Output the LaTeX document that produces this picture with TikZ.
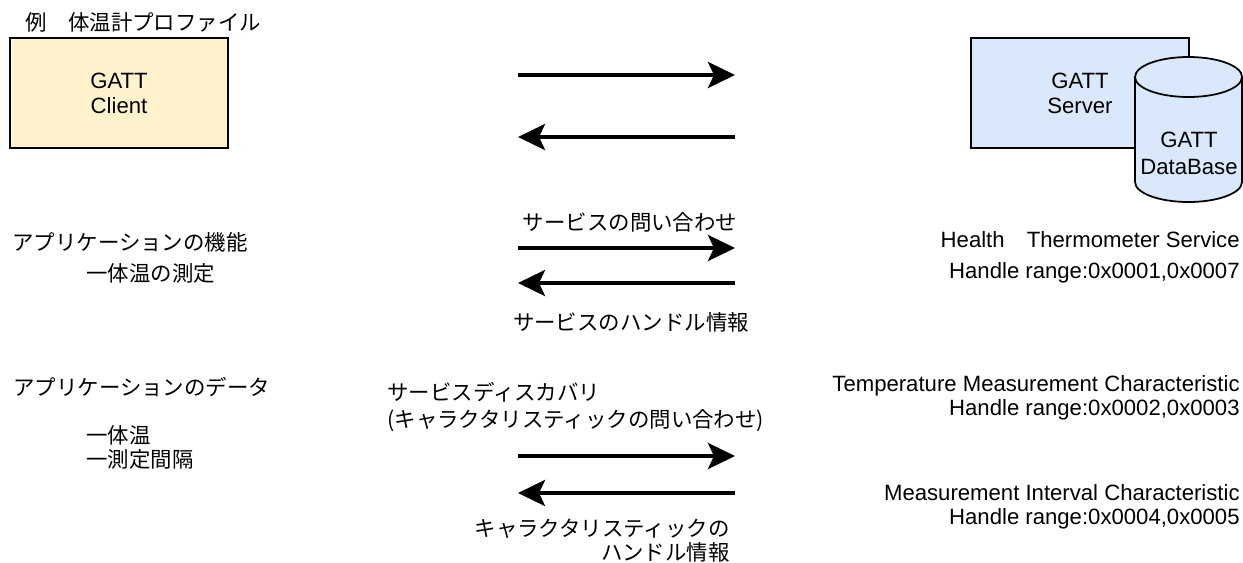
\documentclass[tikz,border=0pt]{standalone}
\usepackage{fontspec}
\setmainfont{Liberation Sans}
\newfontfamily\jp{Noto Sans CJK JP}
\usetikzlibrary{arrows.meta}

\definecolor{clientfill}{HTML}{FFF2CC}
\definecolor{serverfill}{HTML}{DAE8FC}
\newcommand{\lblfont}{\fontsize{12.6}{13.6}\selectfont}
\newcommand{\jpfont}{\fontsize{12.2}{13.6}\selectfont\jp}

\begin{document}
\begin{tikzpicture}[
  x=0.02cm, y=-0.02cm,
  box/.style={rectangle, draw=black, line width=1pt, minimum width=4.36cm,
              minimum height=2.2cm, align=center, inner sep=0pt,
              font=\fontsize{12.6}{14.2}\selectfont},
  lbl/.style={inner sep=0pt, font=\lblfont},
  jlbl/.style={inner sep=0pt, font=\jpfont},
  msg/.style={-{Stealth[length=0.54cm, width=0.52cm, inset=0.12cm]},
              line width=2.3pt},
]
\useasboundingbox (0,0) rectangle (1243,562);

% title
\node[jlbl, anchor=west] (title) at (25,22) {例　体温計プロファイル};

% client and server
\node[box, fill=clientfill] (client) at (119,93) {GATT\\Client};
\node[box, fill=serverfill] (server) at (1080,93) {GATT\\Server};

% database cylinder
\path[fill=serverfill, draw=black, line width=1pt]
  (1135,77) -- (1135,182)
  arc[start angle=180, end angle=360, x radius=1.07cm, y radius=0.4cm]
  -- (1242,77)
  arc[start angle=0, end angle=180, x radius=1.07cm, y radius=0.4cm] -- cycle;
\draw[line width=1pt] (1135,77)
  arc[start angle=180, end angle=360, x radius=1.07cm, y radius=0.4cm];
\node[lbl, align=center, font=\fontsize{12.6}{15.5}\selectfont] (db) at (1189,153) {GATT\\DataBase};

% application side
\node[jlbl, anchor=west] (func)  at (12,242) {アプリケーションの機能};
\node[jlbl, anchor=west] (meas)  at (86,273) {一体温の測定};
\node[jlbl, anchor=west] (data)  at (13,387) {アプリケーションのデータ};
\node[jlbl, anchor=west, align=left] (items) at (86,447) {一体温\\一測定間隔};

% database side
\node[lbl, anchor=east] (hts)   at (1240,240) {Health{\jp　}Thermometer Service};
\node[lbl, anchor=east] (htsh)  at (1240,273) {Handle range:0x0001,0x0007};
\node[lbl, anchor=east, align=right] (tmc) at (1240,398)
  {Temperature Measurement Characteristic\\Handle range:0x0002,0x0003};
\node[lbl, anchor=east, align=right] (mic) at (1240,507)
  {Measurement Interval Characteristic\\Handle range:0x0004,0x0005};

% message labels
\node[jlbl] (svcq) at (630,222) {サービスの問い合わせ};
\node[jlbl] (svcr) at (631,322) {サービスのハンドル情報};
\node[jlbl, anchor=west, align=left, font=\fontsize{12.2}{15.5}\selectfont\jp] (chrq) at (387,407)
  {サービスディスカバリ\\(キャラクタリスティックの問い合わせ)};
\node[jlbl, anchor=east, align=right] (chrr) at (730,541)
  {キャラクタリスティックの\\ハンドル情報};

% arrow ends
\coordinate (c1) at (518,75);   \coordinate (s1) at (735,75);
\coordinate (c2) at (518,137);  \coordinate (s2) at (735,137);
\coordinate (c3) at (518,248);  \coordinate (s3) at (735,248);
\coordinate (c4) at (518,283);  \coordinate (s4) at (735,283);
\coordinate (c5) at (518,456);  \coordinate (s5) at (735,456);
\coordinate (c6) at (518,493);  \coordinate (s6) at (735,493);

% messages
\draw[msg] (c1) -- (s1);
\draw[msg] (s2) -- (c2);
\draw[msg] (c3) -- (s3);
\draw[msg] (s4) -- (c4);
\draw[msg] (c5) -- (s5);
\draw[msg] (s6) -- (c6);

\end{tikzpicture}
\end{document}
